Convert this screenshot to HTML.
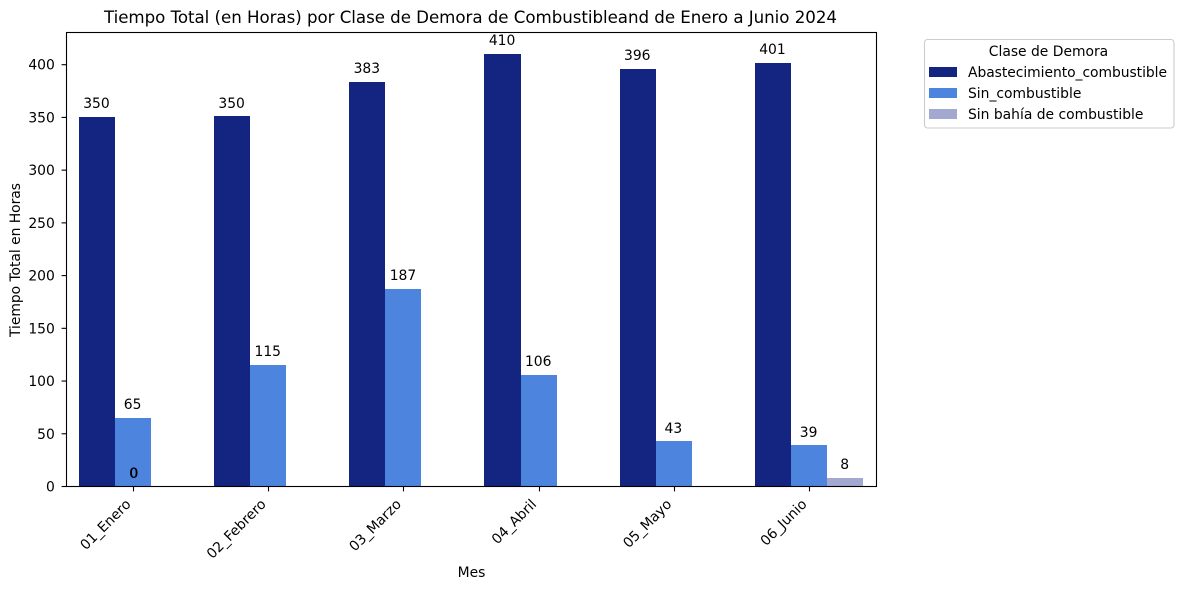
<!DOCTYPE html>
<html lang="es">
<head>
<meta charset="utf-8">
<title>Tiempo Total por Clase de Demora</title>
<style>
html,body{margin:0;padding:0;background:#fff;width:1184px;height:590px;overflow:hidden}
svg{display:block}
text{font-family:"DejaVu Sans","Liberation Sans",sans-serif;fill:#000;font-size:13.89px}
</style>
</head>
<body>
<svg id="chart" xmlns="http://www.w3.org/2000/svg" width="1184" height="590" viewBox="0 0 1184 590">
  <rect x="0" y="0" width="1184" height="590" fill="#fff"/>
  <text x="470.5" y="23" text-anchor="middle" textLength="733" lengthAdjust="spacing" style="font-size:16.67px">Tiempo Total (en Horas) por Clase de Demora de Combustibleand de Enero a Junio 2024</text>
  <g id="bars"></g>
  <g id="value-labels"></g>
  <g id="y-axis"></g>
  <g id="x-axis"></g>
  <rect x="66.5" y="32.5" width="810" height="454" fill="none" stroke="#000" stroke-width="1.1"/>
  <text transform="translate(20,260) rotate(-90)" text-anchor="middle" textLength="154" lengthAdjust="spacing">Tiempo Total en Horas</text>
  <text x="471.5" y="577" text-anchor="middle">Mes</text>
  <g>
    <rect x="924.5" y="39.5" width="249.5" height="88.5" rx="3" ry="3" fill="#fff" stroke="#ccc" stroke-width="1.1"/>
    <text x="1048.5" y="56" text-anchor="middle">Clase de Demora</text>
    <g>
      <rect x="929" y="67" width="28" height="10" fill="#142481"/>
      <text x="968" y="77" textLength="199" lengthAdjust="spacing">Abastecimiento_combustible</text>
    </g>
    <g>
      <rect x="929" y="88" width="28" height="10" fill="#4d84de"/>
      <text x="968" y="98">Sin_combustible</text>
    </g>
    <g>
      <rect x="929" y="109" width="28" height="10" fill="#a3a8d1"/>
      <text x="968" y="119">Sin bahía de combustible</text>
    </g>
  </g>
</svg>
<script>
var months = ["01_Enero", "02_Febrero", "03_Marzo", "04_Abril", "05_Mayo", "06_Junio"];
var abastecimiento = [350, 350.49, 383.4, 410, 395.6, 401.4];
var sinCombustible = [64.8, 115, 187, 105.6, 42.6, 38.7];
var sinBahia = [null, null, null, null, null, 8];
var strayZeroLabels = [0, 0];
var yTicks = [0, 50, 100, 150, 200, 250, 300, 350, 400];

var SVGNS = "http://www.w3.org/2000/svg";
var barsLayer = document.getElementById("bars");
var labelsLayer = document.getElementById("value-labels");
var yAxisLayer = document.getElementById("y-axis");
var xAxisLayer = document.getElementById("x-axis");

var plotBottom = 486.5;
var pxPerUnit = 1.0545;
var firstCenter = 132.98;
var groupStep = 135.2;
var barWidth = 36.12;

function yScale(v) { return plotBottom - v * pxPerUnit; }
function xCenter(i) { return firstCenter + groupStep * i; }

function makeEl(tag, parent) {
  var el = document.createElementNS(SVGNS, tag);
  parent.appendChild(el);
  return el;
}

function drawValueLabel(x, v) {
  var t = makeEl("text", labelsLayer);
  
  
  t.setAttribute("x", x);
  t.setAttribute("y", Math.round(yScale(v) - 9));
  t.setAttribute("text-anchor", "middle");
  t.textContent = String(Math.round(v));
}

function drawSeries(values, offset, color, seriesName) {
  values.forEach(function (v, i) {
    if (v === null) { return; }
    var cx = xCenter(i) + offset * barWidth;
    var left = Math.round(cx - barWidth / 2);
    var right = Math.round(cx + barWidth / 2);
    var top = Math.floor(yScale(v));
    var r = makeEl("rect", barsLayer);
    
    
    r.setAttribute("x", left);
    r.setAttribute("y", top);
    r.setAttribute("width", right - left);
    r.setAttribute("height", 486 - top);
    r.setAttribute("fill", color);
    r.setAttribute("shape-rendering", "crispEdges");
    drawValueLabel(cx - 0.4, v);
  });
}

drawSeries(abastecimiento, -1, "#142481", "abastecimiento");
drawSeries(sinCombustible, 0, "#4d84de", "sin-combustible");
drawSeries(sinBahia, 1, "#a3a8d1", "sin-bahia");
strayZeroLabels.forEach(function (v, k) {
  drawValueLabel(xCenter(0) + 0.6 + k * 0.4, v);
});

yTicks.forEach(function (v) {
  var y = yScale(v);
  var tick = makeEl("line", yAxisLayer);
  
  
  tick.setAttribute("x1", 66.5);
  tick.setAttribute("x2", 61.6);
  tick.setAttribute("y1", y);
  tick.setAttribute("y2", y);
  tick.setAttribute("stroke", "#000");
  tick.setAttribute("stroke-width", "1.1");
  var label = makeEl("text", yAxisLayer);
  
  
  label.setAttribute("x", 54.8);
  label.setAttribute("y", y + 5);
  label.setAttribute("text-anchor", "end");
  label.textContent = String(v);
});

months.forEach(function (m, i) {
  var x = xCenter(i);
  var tickX = Math.round(x) + 0.5;
  var tick = makeEl("line", xAxisLayer);
  
  
  tick.setAttribute("x1", tickX);
  tick.setAttribute("x2", tickX);
  tick.setAttribute("y1", 486.5);
  tick.setAttribute("y2", 491.4);
  tick.setAttribute("stroke", "#000");
  tick.setAttribute("stroke-width", "1.1");
  var label = makeEl("text", xAxisLayer);
  
  
  label.setAttribute("text-anchor", "end");
  label.setAttribute("transform", "translate(" + (x - 1.4) + ",505) rotate(-45)");
  label.textContent = m;
});
</script>
</body>
</html>
